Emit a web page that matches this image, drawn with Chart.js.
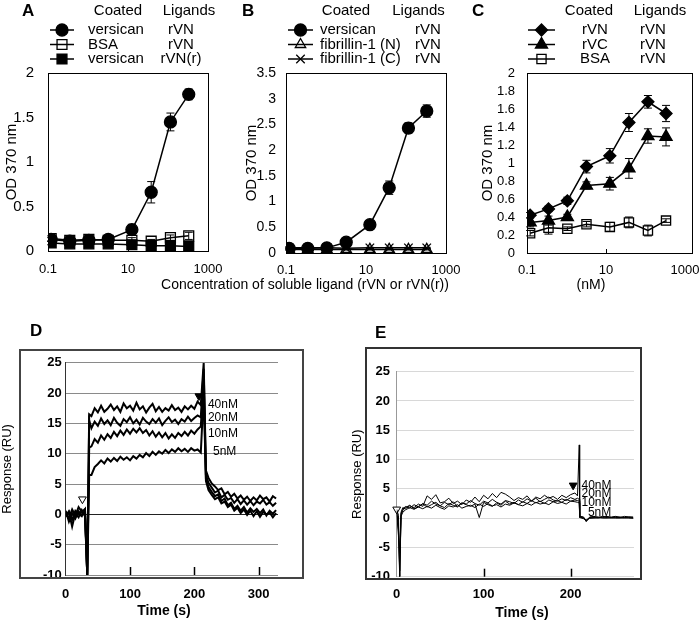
<!DOCTYPE html>
<html>
<head>
<meta charset="utf-8">
<script src="https://cdn.jsdelivr.net/npm/chart.js@4.4.0/dist/chart.umd.min.js"></script>
<style>
body { margin: 0; width: 700px; height: 620px; background: #fff; overflow: hidden; position: relative; font-family: "Liberation Sans", Arial, sans-serif; }
canvas, .txt { position: absolute; }
.txt { white-space: nowrap; line-height: 1; color: #000; }
.letter { font-weight: bold; font-size: 17px; }
.mid { transform: translateX(-50%); }
</style>
</head>
<body>
<canvas id="chartA" width="235" height="280" style="left:0;top:0"></canvas>
<canvas id="chartB" width="230" height="280" style="left:240px;top:0"></canvas>
<canvas id="chartC" width="240" height="280" style="left:476px;top:0"></canvas>
<canvas id="chartD" width="350" height="310" style="left:0;top:310px"></canvas>
<canvas id="chartE" width="350" height="310" style="left:350px;top:310px"></canvas>

<div class="txt letter" style="left:22px;top:2px">A</div>
<div class="txt letter" style="left:242px;top:2px">B</div>
<div class="txt letter" style="left:472px;top:2px">C</div>
<div class="txt letter" style="left:30px;top:322px">D</div>
<div class="txt letter" style="left:375px;top:324px">E</div>
<div class="txt mid" style="left:305px;top:277px;font-size:14px">Concentration of soluble ligand (rVN or rVN(r))</div>
<div class="txt mid" style="left:591px;top:277px;font-size:14px">(nM)</div>
<div class="txt mid" style="left:164px;top:603px;font-size:14px;font-weight:bold">Time (s)</div>
<div class="txt mid" style="left:522px;top:605px;font-size:14px;font-weight:bold">Time (s)</div>

<script>
// ---- panels A-C : solid phase binding (OD 370 nm) ----
const conc = [0.12, 0.35, 1.05, 3.2, 12.5, 38, 115, 330];
const concTicks = [0.1, 10, 1000];

const coatedA = ['versican', 'BSA', 'versican'];
const ligandA = ['rVN', 'rVN', 'rVN(r)'];
const aVersican = [0.13, 0.11, 0.12, 0.13, 0.24, 0.66, 1.45, 1.76];
const aVersicanErr = [0.02, 0.02, 0.02, 0.02, 0.06, 0.12, 0.1, 0.06];
const aBSA = [0.14, 0.12, 0.13, 0.12, 0.12, 0.11, 0.15, 0.17];
const aBSAErr = [0.03, 0.02, 0.02, 0.02, 0.03, 0.02, 0.03, 0.04];
const aVersicanR = [0.09, 0.08, 0.08, 0.08, 0.07, 0.06, 0.06, 0.05];
const aVersicanRErr = [0.02, 0.02, 0.02, 0.02, 0.02, 0.02, 0.02, 0.02];

const coatedB = ['versican', 'fibrillin-1 (N)', 'fibrillin-1 (C)'];
const ligandB = ['rVN', 'rVN', 'rVN'];
const bVersican = [0.09, 0.09, 0.1, 0.21, 0.55, 1.27, 2.43, 2.76];
const bVersicanErr = [0.03, 0.03, 0.03, 0.04, 0.05, 0.13, 0.1, 0.12];
const bFibN = [0.07, 0.07, 0.07, 0.07, 0.07, 0.07, 0.07, 0.07];
const bFibNErr = [0.01, 0.01, 0.01, 0.01, 0.01, 0.01, 0.01, 0.01];
const bFibC = [0.1, 0.1, 0.1, 0.09, 0.1, 0.1, 0.1, 0.1];
const bFibCErr = [0.01, 0.01, 0.01, 0.01, 0.01, 0.01, 0.01, 0.01];

const coatedC = ['rVN', 'rVC', 'BSA'];
const ligandC = ['rVN', 'rVN', 'rVN'];
const cRVN = [0.42, 0.49, 0.58, 0.96, 1.08, 1.45, 1.68, 1.55];
const cRVNErr = [0.03, 0.03, 0.04, 0.07, 0.08, 0.1, 0.07, 0.09];
const cRVC = [0.34, 0.36, 0.4, 0.75, 0.77, 0.94, 1.3, 1.29];
const cRVCErr = [0.05, 0.05, 0.03, 0.04, 0.07, 0.11, 0.08, 0.1];
const cBSA = [0.22, 0.28, 0.27, 0.32, 0.29, 0.34, 0.25, 0.36];
const cBSAErr = [0.03, 0.07, 0.02, 0.03, 0.05, 0.06, 0.06, 0.02];

// ---- panels D-E : sensorgrams (RU) ----
const concLabels = ['40nM', '20nM', '10nM', '5nM'];
const timeTicksD = [0, 100, 200, 300];
const timeTicksE = [0, 100, 200];

const tD = [0, 5, 10, 15, 20, 25, 30, 33.5, 36.5, 40, 45, 50, 55, 60, 65, 70, 75, 80, 85, 90, 95, 100, 105, 110, 115, 120, 125, 130, 135, 140, 145, 150, 155, 160, 165, 170, 175, 180, 185, 190, 195, 200, 205, 210, 214.5, 218, 222, 227, 232, 237, 242, 247, 252, 257, 262, 267, 272, 277, 282, 287, 292, 297, 302, 307, 312, 317, 322, 327];
const d40 = [0.3, -0.6, 0.8, -0.2, 1.2, 0.4, 0.9, -10, 16.5,
  16.2, 17.5, 16.8, 17.9, 16.9, 17.4, 18.1, 17.2, 17.8, 16.9, 18.3, 17.5, 17.9, 17.1, 18.4, 17.3, 17.8, 16.8, 17.6, 18.2, 17.0, 17.7, 16.9, 17.5, 17.1, 18.0, 17.2, 17.6, 16.9, 17.8, 17.3, 17.9, 17.4, 18.6, 18.0,
  25, 7.2,
  6.0, 5.1, 4.6, 4.0, 4.3, 3.3, 3.7, 2.9, 3.4, 2.6, 3.1, 2.4, 2.9, 2.2, 2.8, 2.3, 3.1, 2.5, 2.8, 2.1, 3.0, 2.6];
const d20 = [-0.4, 0.5, -0.9, 0.6, 0.1, -0.3, 0.7, -10, 15.5,
  14.2, 15.3, 14.6, 15.8, 14.9, 15.5, 14.7, 15.9, 15.1, 14.6, 15.7, 15.2, 16.0, 15.0, 15.6, 14.8, 15.9, 15.3, 14.9, 15.7, 15.1, 15.8, 14.7, 15.4, 16.0, 15.2, 15.6, 14.9, 15.7, 15.3, 16.1, 15.4, 15.9, 16.3, 16.0,
  24, 6.5,
  5.2, 4.4, 3.6, 3.9, 2.8, 3.2, 2.4, 2.7, 1.9, 2.5, 1.7, 2.3, 1.6, 2.2, 1.5, 2.1, 1.8, 2.4, 1.6, 2.0, 1.4, 1.9];
const d10 = [0.6, -1.2, 0.2, -0.7, 0.5, -0.1, 0.3, -10, 11,
  11.2, 12.4, 11.8, 13.0, 12.3, 13.2, 12.6, 13.6, 12.9, 13.8, 13.1, 14.0, 13.3, 14.1, 13.5, 14.2, 13.4, 13.9, 13.0, 13.7, 12.8, 13.5, 12.7, 13.4, 12.5, 13.2, 12.6, 13.4, 12.9, 13.6, 13.0, 13.8, 13.3, 14.0, 14.5,
  22, 5.8,
  4.5, 3.7, 3.0, 3.3, 2.2, 2.6, 1.5, 1.9, 0.9, 1.4, 0.6, 1.2, 0.3, 1.0, 0.4, 0.9, 0.2, 0.8, -0.2, 0.6, 0.1, 0.7];
const d5 = [-0.2, 0.4, -2.0, 0.2, -0.5, 0.7, -0.3, -10, 6.5,
  6.5, 7.8, 8.3, 8.9, 8.4, 9.2, 8.7, 9.3, 8.8, 9.5, 9.0, 9.4, 8.9, 9.6, 9.2, 9.8, 9.4, 10.1, 9.6, 10.3, 9.8, 10.4, 10.0, 10.6, 10.1, 10.7, 10.3, 10.9, 10.4, 10.8, 10.3, 10.9, 10.5, 10.7, 10.2,
  20, 5.5,
  4.0, 3.2, 2.5, 2.8, 1.8, 2.1, 1.2, 1.6, 0.6, 1.1, 0.2, 0.8, -0.1, 0.6, -0.3, 0.5, -0.4, 0.4, 0.0, 0.3, -0.5, 0.2];
const startMarkD = [26, 2.5];
const stopMarkD = [207, 19.5];
const labelTD = [221, 221, 221, 229];
const labelYD = [18.1, 16.0, 13.3, 10.3];

const tE = [0, 2, 3.5, 5, 7, 10, 15, 20, 25, 30, 35, 40, 45, 50, 55, 60, 65, 70, 75, 80, 85, 90, 95, 100, 105, 110, 115, 120, 125, 130, 135, 140, 145, 150, 155, 160, 165, 170, 175, 180, 185, 190, 195, 200, 205, 208, 210, 210.5, 215, 218, 222, 227, 232, 237, 242, 247, 252, 257, 262, 267, 272];
const e40 = [1.5, 0.5, -10, 1.0, 1.8,
  1.6, 2.1, 1.8, 2.4, 2.0, 3.8, 3.2, 4.0, 2.6, 2.8, 3.4, 2.5, 2.9, 2.3, 3.1, 2.7, 3.6, 2.8, 3.9, 3.3,
  4.2, 3.5, 4.4, 4.1, 3.6, 3.0, 3.5, 3.2, 3.8, 2.9, 3.6, 3.3, 3.9, 3.4, 3.7, 3.2, 3.9, 3.5, 4.0, 4.3,
  3.8, 12.5, 0.3, 0.2, -0.6,
  0.2, 0.3, 0.1, 0.3, 0.2, 0.2, 0.3, 0.1, 0.3, 0.2, 0.2];
const e20 = [1.2, -2, -6, 0.8, 1.5,
  2.0, 1.7, 2.3, 1.9, 2.5, 2.2, 2.9, 2.4, 2.1, 2.7, 2.3, 2.8, 2.0, 2.6, 2.4, 3.0, 2.5, 2.2, 2.9, 2.6,
  3.2, 2.7, 2.4, 3.0, 2.8, 2.5, 3.1, 2.7, 3.3, 2.9, 3.4, 2.8, 3.2, 3.6, 3.1, 2.9, 3.3, 3.0, 3.5, 3.2,
  3.4, 3.2, 0.3, 0.1, -0.4,
  0.1, 0.2, 0.2, 0.1, 0.3, 0.1, 0.2, 0.2, 0.1, 0.2, 0.1];
const e10 = [1.0, -1, -9, 0.5, 1.3,
  1.8, 2.2, 1.6, 2.0, 2.4, 1.9, 2.3, 2.7, 2.1, 1.8, 2.5, 2.2, 1.9, 2.6, 2.3, 2.0, 2.4, 0.1, 2.7, 2.3,
  2.0, 2.6, 2.2, 2.9, 2.4, 2.7, 2.3, 2.8, 2.5, 3.0, 2.6, 2.9, 2.5, 3.1, 2.8, 3.0, 2.7, 3.2, 2.9, 3.1,
  3.0, 2.9, 0.2, 0.0, -0.5,
  0.0, 0.1, 0.0, 0.2, 0.1, 0.0, 0.1, 0.1, 0.0, 0.1, 0.0];
const e5 = [0.8, -3, -10, 0.3, 1.0,
  1.4, 1.8, 1.5, 1.9, 1.6, 2.0, 1.7, 2.2, 1.8, 1.5, 2.1, 1.9, 2.3, 1.7, 2.0, 2.2, 1.8, 2.4, 2.0, 2.5,
  2.1, 2.3, 1.9, 2.4, 2.2, 2.6, 2.3, 2.1, 2.5, 2.2, 2.7, 2.4, 2.6, 2.3, 2.8, 2.5, 2.7, 2.4, 2.9, 2.8,
  2.7, 2.6, 0.1, -0.1, -0.3,
  0.0, 0.0, 0.1, 0.0, 0.0, 0.1, 0.0, 0.0, 0.1, 0.0, 0.0];
const startMarkE = [0, 1.5];
const stopMarkE = [203, 5.6];
const labelTE = [212.6, 212.6, 212.6, 220];
const labelYE = [5.5, 4.1, 2.6, 1.0];

const FONT = '"Liberation Sans", Arial, sans-serif';
Chart.defaults.font.family = FONT;
Chart.defaults.color = '#000';

// error bars, plot frame and the two-column legend of panels A-C
const panelDeco = {
    id: 'panelDeco',
    afterDatasetsDraw(chart) {
        const { ctx } = chart;
        const xs = chart.scales.x, ys = chart.scales.y;
        ctx.save();
        ctx.strokeStyle = '#000';
        ctx.lineWidth = 1;
        chart.data.datasets.forEach(ds => {
            ds.data.forEach((p, i) => {
                const e = ds.errors[i];
                const px = xs.getPixelForValue(p.x);
                const y1 = ys.getPixelForValue(p.y + e), y2 = ys.getPixelForValue(p.y - e);
                ctx.beginPath();
                ctx.moveTo(px, y1); ctx.lineTo(px, y2);
                ctx.moveTo(px - 4, y1); ctx.lineTo(px + 4, y1);
                ctx.moveTo(px - 4, y2); ctx.lineTo(px + 4, y2);
                ctx.stroke();
            });
        });
        ctx.restore();
    },
    afterDraw(chart, args, o) {
        const { ctx } = chart;
        const a = chart.chartArea;
        ctx.save();
        ctx.strokeStyle = '#000';
        ctx.lineWidth = 1;
        ctx.strokeRect(Math.round(a.left) + 0.5, Math.round(a.top) + 0.5, Math.round(a.right - a.left), Math.round(a.bottom - a.top));
        const tx = Math.round(chart.scales.x.getPixelForValue(10)) + 0.5;
        ctx.beginPath(); ctx.moveTo(tx, a.bottom); ctx.lineTo(tx, a.bottom - 4); ctx.stroke();

        ctx.font = '15px ' + FONT;
        ctx.fillStyle = '#000';
        ctx.textBaseline = 'middle';
        ctx.textAlign = 'center';
        ctx.fillText('Coated', o.head[0], o.headY);
        ctx.fillText('Ligands', o.head[1], o.headY);
        chart.data.datasets.forEach((ds, i) => {
            const yy = o.rowY[i];
            ctx.strokeStyle = '#000';
            ctx.lineWidth = 1.5;
            ctx.beginPath(); ctx.moveTo(o.line[0], yy); ctx.lineTo(o.line[1], yy); ctx.stroke();
            ctx.fillStyle = ds.pointBackgroundColor;
            ctx.lineWidth = ds.pointBorderWidth;
            Chart.helpers.drawPoint(ctx, { pointStyle: ds.pointStyle, radius: ds.pointRadius, rotation: 0, borderWidth: ds.pointBorderWidth }, (o.line[0] + o.line[1]) / 2, yy);
            ctx.fillStyle = '#000';
            ctx.textAlign = o.align[0];
            ctx.fillText(o.coated[i], o.col[0], yy);
            ctx.textAlign = o.align[1];
            ctx.fillText(o.ligands[i], o.col[1], yy);
        });
        ctx.restore();
    }
};

function series(ys, errs, style, r, filled) {
    return {
        data: conc.map((x, i) => ({ x: x, y: ys[i] })),
        errors: errs,
        showLine: true,
        borderColor: '#000',
        borderWidth: 1.5,
        tension: 0,
        pointStyle: style,
        pointRadius: r,
        pointHoverRadius: r,
        pointBackgroundColor: filled ? '#000' : 'rgba(0,0,0,0)',
        pointBorderColor: '#000',
        pointBorderWidth: 1.3
    };
}

function bindingChart(id, datasets, yMax, yStep, xMax, box, legend) {
    const cv = document.getElementById(id);
    return new Chart(cv, {
        type: 'scatter',
        data: { datasets: datasets },
        options: {
            responsive: false,
            animation: false,
            events: [],
            layout: { padding: { left: 0, top: box.top, right: cv.width - box.right, bottom: 0 } },
            plugins: { legend: { display: false }, tooltip: { enabled: false }, panelDeco: legend },
            scales: {
                x: {
                    type: 'logarithmic', min: 0.1, max: xMax,
                    afterFit: s => { s.height = cv.height - box.bottom; },
                    afterBuildTicks: s => { s.ticks = concTicks.map(v => ({ value: v })); },
                    grid: { display: false }, border: { display: false },
                    ticks: { padding: box.xPad, font: { size: 13 }, maxRotation: 0, autoSkip: false, callback: v => String(v) }
                },
                y: {
                    min: 0, max: yMax,
                    afterFit: s => { s.width = box.left; },
                    grid: { display: false }, border: { display: false },
                    ticks: { stepSize: yStep, padding: box.yPad, autoSkip: false, font: { size: box.yFont }, callback: v => String(+v.toFixed(1)) },
                    title: { display: true, text: 'OD 370 nm', font: { size: 15 }, padding: { top: 2.5, bottom: 0 } }
                }
            }
        },
        plugins: [panelDeco]
    });
}

bindingChart('chartA', [
    series(aVersican, aVersicanErr, 'circle', 6, true),
    series(aBSA, aBSAErr, 'rect', 7, false),
    series(aVersicanR, aVersicanRErr, 'rect', 7, true)
], 2, 0.5, 1000, { left: 48, right: 208, top: 73, bottom: 251, xPad: 3, yPad: 6, yFont: 15 },
{ head: [118, 189], headY: 11, rowY: [30, 44.5, 59], line: [50, 74], col: [88, 181], align: ['left', 'center'], coated: coatedA, ligands: ligandA });

bindingChart('chartB', [
    series(bVersican, bVersicanErr, 'circle', 6, true),
    series(bFibN, bFibNErr, 'triangle', 6, false),
    series(bFibC, bFibCErr, 'crossRot', 6, false)
], 3.5, 0.5, 1000, { left: 46, right: 206, top: 73, bottom: 253, xPad: 2, yPad: 2, yFont: 14 },
{ head: [106, 178.5], headY: 11, rowY: [30, 44.5, 59], line: [48, 73], col: [80, 175], align: ['left', 'left'], coated: coatedB, ligands: ligandB });

bindingChart('chartC', [
    series(cRVN, cRVNErr, 'rectRot', 6, true),
    series(cRVC, cRVCErr, 'triangle', 7, true),
    series(cBSA, cBSAErr, 'rect', 6.5, false)
], 2, 0.2, 1500, { left: 51, right: 216, top: 73, bottom: 253, xPad: 2, yPad: 4, yFont: 13 },
{ head: [113, 184], headY: 11, rowY: [30, 44.5, 59], line: [52, 79], col: [119, 177], align: ['center', 'center'], coated: coatedC, ligands: ligandC });

// frame, time ticks and concentration labels of panels D-E
const sensorDeco = {
    id: 'sensorDeco',
    afterDraw(chart, args, o) {
        const { ctx } = chart;
        const x = chart.scales.x, y = chart.scales.y;
        const b = chart.chartArea.bottom;
        ctx.save();
        ctx.strokeStyle = o.frameColor;
        ctx.lineWidth = 2;
        const f = o.frame;
        ctx.strokeRect(f[0], f[1], f[2] - f[0], f[3] - f[1]);
        ctx.strokeStyle = '#000';
        ctx.lineWidth = 1.5;
        o.tickT.forEach(t => {
            const px = Math.round(x.getPixelForValue(t)) + 0.5;
            ctx.beginPath(); ctx.moveTo(px, b); ctx.lineTo(px, b - 8); ctx.stroke();
        });
        ctx.fillStyle = '#000';
        ctx.font = '12px ' + FONT;
        ctx.textBaseline = 'middle';
        ctx.textAlign = 'left';
        concLabels.forEach((s, i) => ctx.fillText(s, x.getPixelForValue(o.labelT[i]), y.getPixelForValue(o.labelY[i])));
        ctx.restore();
    }
};

function trace(t, ys, w) {
    return { data: t.map((x, i) => ({ x: x, y: ys[i] })), showLine: true, borderColor: '#000', borderWidth: w, pointRadius: 0, tension: 0 };
}
function mark(p, filled) {
    return {
        data: [{ x: p[0], y: p[1] }], pointStyle: 'triangle', rotation: 180, pointRadius: 4.5,
        pointBackgroundColor: filled ? '#000' : '#fff', pointBorderColor: '#000', pointBorderWidth: 1, clip: false
    };
}

function sensorChart(id, datasets, xMax, ticks, box, deco) {
    const cv = document.getElementById(id);
    return new Chart(cv, {
        type: 'scatter',
        data: { datasets: datasets },
        options: {
            responsive: false,
            animation: false,
            events: [],
            layout: { padding: { left: 0, top: box.top, right: cv.width - box.right, bottom: 0 } },
            plugins: { legend: { display: false }, tooltip: { enabled: false }, sensorDeco: deco },
            scales: {
                x: {
                    type: 'linear', min: 0, max: xMax,
                    afterFit: s => { s.height = cv.height - box.bottom; },
                    afterBuildTicks: s => { s.ticks = ticks.map(v => ({ value: v })); },
                    grid: { display: false }, border: { display: false },
                    ticks: { padding: box.xPad, font: { size: 13, weight: 'bold' }, maxRotation: 0, autoSkip: false }
                },
                y: {
                    min: -10, max: 25,
                    afterFit: s => { s.width = box.left; },
                    grid: { drawTicks: false, color: c => (c.tick && c.tick.value === 0) ? deco.zeroColor : deco.gridColor },
                    border: { display: true, color: deco.axisColor },
                    ticks: { stepSize: 5, padding: box.yPad, autoSkip: false, font: { size: 13, weight: 'bold' } },
                    title: { display: true, text: 'Response (RU)', font: { size: 13 }, padding: { top: 0, bottom: 0 } }
                }
            }
        },
        plugins: [sensorDeco]
    });
}

sensorChart('chartD', [
    trace(tD, d40, 2), trace(tD, d20, 2), trace(tD, d10, 2), trace(tD, d5, 2),
    mark(startMarkD, false), mark(stopMarkD, true)
], 330, timeTicksD, { left: 65.7, right: 278, top: 52.7, bottom: 265, xPad: 4, yPad: 4 },
{ frame: [20, 40, 303, 268], frameColor: '#444', tickT: [100, 200, 300], labelT: labelTD, labelY: labelYD, gridColor: '#8a8a8a', zeroColor: '#222', axisColor: '#333' });

sensorChart('chartE', [
    trace(tE, e40, 1), trace(tE, e20, 1), trace(tE, e10, 1), trace(tE, e5, 1),
    mark(startMarkE, false), mark(stopMarkE, true)
], 273, timeTicksE, { left: 46.7, right: 284, top: 61.7, bottom: 266.7, xPad: 2, yPad: 6.7 },
{ frame: [16, 38, 291, 269], frameColor: '#333', tickT: [100, 200], labelT: labelTE, labelY: labelYE, gridColor: '#d8d8d8', zeroColor: '#d8d8d8', axisColor: '#999' });
</script>
</body>
</html>
